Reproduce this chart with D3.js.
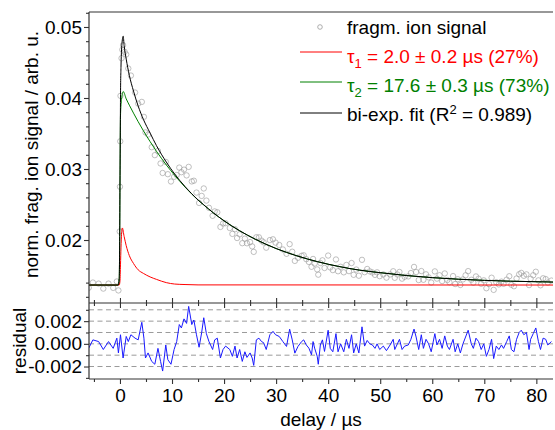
<!DOCTYPE html>
<html><head><meta charset="utf-8">
<script src="https://cdn.jsdelivr.net/npm/d3@7"></script>
<style>body{margin:0;background:#fff} svg{display:block} text{font-family:"Liberation Sans",Arial,sans-serif}</style>
</head><body><svg id="c" width="555" height="430"></svg>
<script>
// ---------- data ----------
const sigT = [-6,-5.2,-4.1,-3.2,-2.2,-1.3,-0.6,-0.3,-0.05,0,0.05,0.1,0.3,0.45,0.6,0.9,1.2,1.6,2.1,2.9,3.5,4.2,4.6,4.9,5.4,6.1,6.7,7.3,7.8,8.2,8.8,9.2,9.8,10.4,10.9,11.4,11.8,12.3,12.8,13.2,13.8,14.2,14.7,15.2,15.7,16.1,16.6,17.1,17.8,18.2,18.7,19.3,19.8,20.3,21.1,21.6,22.1,22.5,23,23.5,24,24.4,25,25.4,25.7,26.2,26.7,27.2,27.6,28.1,28.8,29.4,29.9,30.6,31.3,32,32.6,33.1,33.6,34.2,34.9,35.3,35.8,36.3,36.8,37.1,37.4,37.9,38.1,38.5,38.9,39.3,40,40.4,40.9,41.5,41.9,42.4,43,43.5,44,44.5,44.9,45.4,45.9,46.5,47,47.5,48,48.5,49,49.4,49.9,50.6,51.2,51.9,52.5,52.8,53.3,53.7,54.2,54.7,55.4,55.9,56.5,56.9,57.4,57.9,58.3,58.8,59.3,59.8,60.5,60.9,61.4,61.9,62.4,62.9,63.3,64,64.4,64.9,65.4,65.9,66.4,66.9,67.5,67.9,68.4,68.9,69.4,69.9,70.4,70.9,71.4,71.8,72.3,72.8,73.3,73.7,74.3,74.8,75.2,75.7,76.2,76.7,77.1,77.6,78.1,78.6,78.9,79.4,79.9,80.4,80.8,81.3,81.8,82.2,82.9];
const sigV = [0.01328,0.01401,0.01386,0.01316,0.01386,0.01326,0.01416,0.01290,0.0212,0.0275,0.0339,0.0403,0.0456,0.0468,0.04745,0.0465,0.04613,0.04415,0.04316,0.04077,0.03921,0.03945,0.03734,0.03515,0.03485,0.03307,0.03195,0.03254,0.03078,0.02944,0.0310,0.02927,0.02824,0.0289,0.02915,0.0302,0.02955,0.02991,0.0291,0.0303,0.02825,0.02835,0.02668,0.02522,0.02621,0.02726,0.02555,0.02454,0.02341,0.02403,0.02391,0.02184,0.02232,0.02237,0.02169,0.02086,0.02152,0.02028,0.0208,0.01955,0.0202,0.01954,0.01971,0.0191,0.01833,0.02039,0.02038,0.01991,0.01968,0.01892,0.01999,0.0201,0.01963,0.0193,0.01867,0.01806,0.01942,0.01835,0.01706,0.0175,0.01778,0.01785,0.0173,0.01691,0.01623,0.01733,0.01668,0.01586,0.01512,0.01676,0.01714,0.01606,0.01781,0.01614,0.01576,0.01726,0.0156,0.01623,0.01545,0.01649,0.01562,0.01676,0.0151,0.01584,0.01497,0.01721,0.01547,0.01592,0.01558,0.01543,0.01509,0.01545,0.01491,0.01515,0.0147,0.01515,0.0156,0.01468,0.01514,0.0155,0.01456,0.01482,0.01488,0.01535,0.01621,0.01549,0.01436,0.01563,0.0144,0.01517,0.01474,0.01401,0.01558,0.01456,0.01504,0.01422,0.01529,0.01437,0.01405,0.01492,0.0138,0.01448,0.01367,0.01445,0.01503,0.01562,0.0144,0.01399,0.01487,0.01455,0.01384,0.01432,0.01321,0.0138,0.01469,0.01298,0.01406,0.01375,0.01414,0.01383,0.01442,0.0149,0.0137,0.01349,0.01458,0.01518,0.01537,0.01496,0.01516,0.01365,0.01454,0.01504,0.01553,0.01432,0.01362,0.01461,0.0145,0.014,0.01429];

const resT = [-6,-5.2,-4.1,-3.2,-2.2,-1.3,-0.6,-0.3,0.1,0.6,1.2,1.6,2.1,2.9,3.5,4.2,4.6,4.9,5.4,6.1,6.7,7.3,7.8,8.2,8.8,9.2,9.8,10.4,10.9,11.4,11.8,12.3,12.8,13.2,13.8,14.2,14.7,15.2,15.7,16.1,16.6,17.1,17.8,18.2,18.7,19.3,19.8,20.3,21.1,21.6,22.1,22.5,23,23.5,24,24.4,25,25.4,25.7,26.2,26.7,27.2,27.6,28.1,28.8,29.4,29.9,30.6,31.3,32,32.6,33.1,33.6,34.2,34.9,35.3,35.8,36.3,36.8,37.1,37.4,37.9,38.1,38.5,38.9,39.3,40,40.4,40.9,41.5,41.9,42.4,43,43.5,44,44.5,44.9,45.4,45.9,46.5,47,47.5,48,48.5,49,49.4,49.9,50.6,51.2,51.9,52.5,52.8,53.3,53.7,54.2,54.7,55.4,55.9,56.5,56.9,57.4,57.9,58.3,58.8,59.3,59.8,60.5,60.9,61.4,61.9,62.4,62.9,63.3,64,64.4,64.9,65.4,65.9,66.4,66.9,67.5,67.9,68.4,68.9,69.4,69.9,70.4,70.9,71.4,71.8,72.3,72.8,73.3,73.7,74.3,74.8,75.2,75.7,76.2,76.7,77.1,77.6,78.1,78.6,78.9,79.4,79.9,80.4,80.8,81.3,81.8,82.2,82.9];
const resV = [-0.00038,0.00035,0.0002,-0.0005,0.0002,-0.0004,0.0005,-0.0008,0.0008,-0.00125,0.00065,0.0002,0.0008,0.0005,0.00035,0.0019,0.0005,-0.00125,-0.0008,-0.00155,-0.0018,-0.0004,-0.00155,-0.0024,-0.0001,-0.0014,-0.0018,-0.0005,0.0002,0.0017,0.0014,0.0022,0.0018,0.0033,0.0017,0.0021,0.0008,-0.0003,0.001,0.0023,0.0009,0.0002,-0.0005,0.00035,0.0005,-0.00125,-0.0005,-0.0002,-0.0005,-0.0011,-0.0002,-0.00125,-0.0005,-0.00155,-0.0007,-0.0012,-0.0008,-0.00125,-0.0019,0.00035,0.0005,0.0002,0.0001,-0.0005,0.0008,0.0011,0.0008,0.00065,0.0002,-0.00023,0.00129,0.00035,-0.00082,-0.00023,0.0002,0.00035,-0.0001,-0.00038,-0.00096,0.0002,-0.00038,-0.0011,-0.0018,-0.0001,0.00035,-0.00067,0.0012,-0.0004,-0.0007,0.0009,-0.0007,0,-0.0007,0.0004,-0.0004,0.0008,-0.0008,0,-0.0008,0.0015,-0.0002,0.0003,0,-0.0001,-0.0004,0,-0.0005,-0.0002,-0.0006,-0.0001,0.0004,-0.0005,0,0.0004,-0.0005,-0.0002,-0.0001,0.0004,0.0013,0.0006,-0.0005,0.0008,-0.0004,0.0004,0,-0.0007,0.0009,-0.0001,0.0004,-0.0004,0.0007,-0.0002,-0.0005,0.0004,-0.0007,0,-0.0008,0,0.0006,0.0012,0,-0.0004,0.0005,0.0002,-0.0005,0,-0.0011,-0.0005,0.0004,-0.0013,-0.0002,-0.0005,-0.0001,-0.0004,0.0002,0.0007,-0.0005,-0.0007,0.0004,0.001,0.0012,0.0008,0.001,-0.0005,0.0004,0.0009,0.0014,0.0002,-0.0005,0.0005,0.0004,-0.0001,0.0002];

const biT = [-5.95,-0.35,-0.15,-0.05,0,0.05,0.1,0.2,0.4,0.62,0.8,1.2,1.8,2.6,3.5,4.5,5.8,7,8.9,10.5,12.5,15,16,18,20,23,26,30,34,38,42,46,50,55,60,65,70,75,83.2];
const biV = [0.01366,0.01366,0.0145,0.0205,0.0275,0.0335,0.0400,0.0445,0.0478,0.0487,0.04738,0.04548,0.04319,0.04097,0.03886,0.03699,0.03505,0.03331,0.03098,0.0293,0.02753,0.02565,0.02502,0.02379,0.02271,0.0213,0.02011,0.0188,0.01777,0.01694,0.01628,0.01576,0.0154,0.0150,0.0147,0.01448,0.01432,0.0142,0.01408];

const tau2T = [-5.95,-0.35,-0.15,-0.05,0,0.05,0.1,0.3,0.62,1.2,1.8,2.6,3.5,4.5,5.8,7,8.9,10.5,12.5,15,16,18,20,23,26,30,34,38,42,46,50,55,60,65,70,75,83.2];
const tau2V = [0.01366,0.01366,0.0145,0.0205,0.0275,0.0335,0.0375,0.0398,0.0409,0.03988,0.03899,0.03787,0.03666,0.03539,0.03385,0.03251,0.03058,0.02912,0.02746,0.02563,0.025,0.02379,0.02271,0.0213,0.02011,0.0188,0.01777,0.01694,0.01628,0.01576,0.0154,0.0150,0.0147,0.01448,0.01432,0.0142,0.01408];

const tau1T = [-5.95,-0.15,0,0.1,0.2,0.3,0.45,0.8,1.2,1.8,2.6,3.5,4.5,5.8,7,8.9,10.5,12.5,15,83.2];
const tau1V = [0.01366,0.01366,0.0142,0.0165,0.019,0.0208,0.0217,0.0205,0.0192,0.0178,0.0167,0.0158,0.0153,0.0148,0.01446,0.0140,0.0138,0.01373,0.01368,0.01366];

const xMajor = [0,10,20,30,40,50,60,70,80];
const xMinor = [-5,5,15,25,35,45,55,65,75];
const yMajor = [0.02,0.03,0.04,0.05];
const yMajorLabels = ["0.02","0.03","0.04","0.05"];
const yMinor = [0.012,0.014,0.016,0.018,0.022,0.024,0.026,0.028,0.032,0.034,0.036,0.038,0.042,0.044,0.046,0.048,0.052];
const rMajor = [-0.002,0,0.002];
const rMajorLabels = ["-0.002","0.000","0.002"];
const rMinor = [-0.003,-0.001,0.001,0.003];
const rGrid = [-0.002,-0.001,0,0.001,0.002,0.003];

const legendLabels = ["fragm. ion signal","τ","1"," = 2.0 ± 0.2 µs (27%)","τ","2"," = 17.6 ± 0.3 µs (73%)","bi-exp. fit (R","2"," = 0.989)"];

// ---------- layout ----------
const L = 89, R = 553, T = 12, MB = 303, RB = 379;
const FS = 19;
const svg = d3.select("#c");
const x = d3.scaleLinear().domain([-5.95, 83.2]).range([L, R]);
const y = d3.scaleLinear().domain([0.01113, 0.05211]).range([MB, T]);
const yr = d3.scaleLinear().domain([-0.0031, 0.0036]).range([RB, MB]);

svg.append("defs").html(`<clipPath id="cm"><rect x="${L}" y="${T}" width="${R-L}" height="${MB-T}"/></clipPath>
<clipPath id="cr"><rect x="${L}" y="${MB}" width="${R-L}" height="${RB-MB}"/></clipPath>`);

// residual grid
svg.append("g").selectAll("line").data(rGrid).join("line")
  .attr("x1", L).attr("x2", R).attr("y1", d => yr(d)).attr("y2", d => yr(d))
  .attr("stroke", "#9a9a9a").attr("stroke-width", 1).attr("stroke-dasharray", "5,3.5");

// data circles
const sig = sigT.map((t, i) => [t, sigV[i]]);
svg.append("g").attr("clip-path", "url(#cm)").selectAll("circle").data(sig).join("circle")
  .attr("cx", d => x(d[0])).attr("cy", d => y(d[1])).attr("r", 2.7)
  .attr("fill", "none").attr("stroke", "#9a9a9a").attr("stroke-opacity", 0.7).attr("stroke-width", 0.9);

const line = d3.line().x(d => x(d[0])).y(d => y(d[1])).curve(d3.curveMonotoneX);
const gm = svg.append("g").attr("clip-path", "url(#cm)").attr("fill", "none");
gm.append("path").attr("d", line(tau1T.map((t, i) => [t, tau1V[i]]))).attr("stroke", "#ff0000").attr("stroke-width", 1);
gm.append("path").attr("d", line(tau2T.map((t, i) => [t, tau2V[i]]))).attr("stroke", "#008000").attr("stroke-width", 1);
gm.append("path").attr("d", line(biT.map((t, i) => [t, biV[i]]))).attr("stroke", "#000").attr("stroke-width", 1);

// residual line
const rline = d3.line().x(d => x(d[0])).y(d => yr(d[1]));
svg.append("g").attr("clip-path", "url(#cr)").append("path")
  .attr("d", rline(resT.map((t, i) => [t, resV[i]])))
  .attr("fill", "none").attr("stroke", "#1a1aff").attr("stroke-width", 1);

// axes
function style(g) {
  g.select(".domain").remove();
  g.selectAll("line").attr("stroke", "#333").attr("stroke-width", 1.1);
  g.selectAll("text").attr("font-size", FS).attr("fill", "#000").attr("font-family", '"Liberation Sans",Arial,sans-serif');
}
svg.append("g").attr("transform", `translate(${L},0)`).call(d3.axisLeft(y).tickValues(yMajor).tickFormat((d, i) => yMajorLabels[i]).tickSize(5).tickPadding(2)).call(style);
svg.append("g").attr("transform", `translate(${L},0)`).call(d3.axisLeft(y).tickValues(yMinor).tickFormat("").tickSize(3)).call(style);
svg.append("g").attr("transform", `translate(${L},0)`).call(d3.axisLeft(yr).tickValues(rMajor).tickFormat((d, i) => rMajorLabels[i]).tickSize(5).tickPadding(2)).call(style);
svg.append("g").attr("transform", `translate(${L},0)`).call(d3.axisLeft(yr).tickValues(rMinor).tickFormat("").tickSize(3)).call(style);
svg.append("g").attr("transform", `translate(0,${MB})`).call(d3.axisBottom(x).tickValues(xMajor).tickFormat("").tickSize(5)).call(style);
svg.append("g").attr("transform", `translate(0,${MB})`).call(d3.axisBottom(x).tickValues(xMinor).tickFormat("").tickSize(3)).call(style);
svg.append("g").attr("transform", `translate(0,${MB})`).call(d3.axisTop(x).tickValues(xMajor).tickFormat("").tickSize(5)).call(style);
svg.append("g").attr("transform", `translate(0,${MB})`).call(d3.axisTop(x).tickValues(xMinor).tickFormat("").tickSize(3)).call(style);
svg.append("g").attr("transform", `translate(0,${RB})`).call(d3.axisBottom(x).tickValues(xMajor).tickFormat(d3.format("d")).tickSize(5).tickPadding(5)).call(style);
svg.append("g").attr("transform", `translate(0,${RB})`).call(d3.axisBottom(x).tickValues(xMinor).tickFormat("").tickSize(3)).call(style);

// frame lines
const fr = svg.append("g").attr("stroke", "#333").attr("stroke-width", 1.2);
fr.append("line").attr("x1", L).attr("x2", L).attr("y1", T).attr("y2", RB);
fr.append("line").attr("x1", L).attr("x2", R).attr("y1", T).attr("y2", T);
fr.append("line").attr("x1", L).attr("x2", R).attr("y1", MB).attr("y2", MB);
fr.append("line").attr("x1", L).attr("x2", R).attr("y1", RB).attr("y2", RB);

// titles
svg.append("text").attr("transform", `translate(38,${(T + MB) / 2 - 3}) rotate(-90)`).attr("text-anchor", "middle")
  .attr("font-size", FS).text("norm. frag. ion signal / arb. u.");
svg.append("text").attr("transform", `translate(26,${(MB + RB) / 2}) rotate(-90)`).attr("text-anchor", "middle")
  .attr("font-size", FS).text("residual");
svg.append("text").attr("x", (L + R) / 2).attr("y", 426).attr("text-anchor", "middle")
  .attr("font-size", FS).text("delay / µs");

// legend
const lg = svg.append("g");
const TX = 347;
lg.append("circle").attr("cx", 320).attr("cy", 27).attr("r", 2.3).attr("fill", "none").attr("stroke", "#9a9a9a").attr("stroke-width", 0.8);
lg.append("text").attr("x", TX).attr("y", 34).attr("font-size", FS).text(legendLabels[0]);
lg.append("line").attr("x1", 300).attr("x2", 342).attr("y1", 52).attr("y2", 52).attr("stroke", "#ff0000");
const t1 = lg.append("text").attr("x", TX).attr("y", 63).attr("font-size", FS).attr("fill", "#ff0000");
t1.append("tspan").text(legendLabels[1]);
t1.append("tspan").attr("font-size", 13).attr("dy", 5).text(legendLabels[2]);
t1.append("tspan").attr("dy", -5).text(legendLabels[3]);
lg.append("line").attr("x1", 300).attr("x2", 342).attr("y1", 82).attr("y2", 82).attr("stroke", "#008000");
const t2 = lg.append("text").attr("x", TX).attr("y", 92).attr("font-size", FS).attr("fill", "#008000");
t2.append("tspan").text(legendLabels[4]);
t2.append("tspan").attr("font-size", 13).attr("dy", 5).text(legendLabels[5]);
t2.append("tspan").attr("dy", -5).text(legendLabels[6]);
lg.append("line").attr("x1", 300).attr("x2", 342).attr("y1", 113).attr("y2", 113).attr("stroke", "#000");
const t3 = lg.append("text").attr("x", TX).attr("y", 120.5).attr("font-size", FS).attr("fill", "#000");
t3.append("tspan").text(legendLabels[7]);
t3.append("tspan").attr("font-size", 13).attr("dy", -7).text(legendLabels[8]);
t3.append("tspan").attr("dy", 7).text(legendLabels[9]);
</script></body></html>
